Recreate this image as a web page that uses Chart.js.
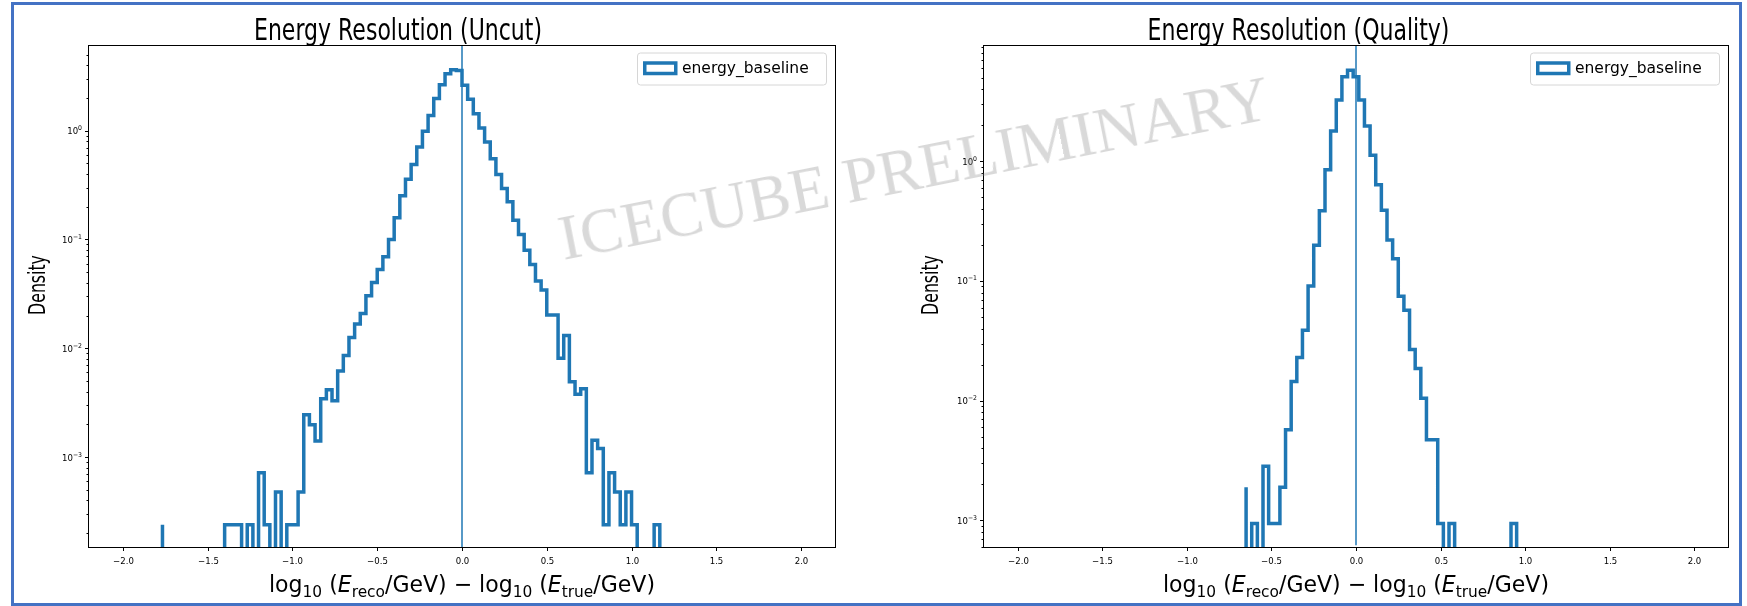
<!DOCTYPE html>
<html lang="en">
<head>
<meta charset="UTF-8">
<title>Energy Resolution</title>
<script src="https://cdn.jsdelivr.net/npm/chart.js"></script>
<style>
  body { margin: 0; background: #fff; }
  #pagina { position: relative; width: 1747px; height: 606px; overflow: hidden; background: #fff; }
  .moldura { position: absolute; left: 11px; top: 2px; width: 1731px; height: 604px; box-sizing: border-box; border: 3.5px solid #4472c4; }
  canvas { position: absolute; top: 0; }
  #graficoUncut { left: 0; }
  #graficoQuality { left: 873px; }
  #marca { position: absolute; left: 563px; top: 257px; width: 0; height: 0; transform: rotate(-11.3deg); transform-origin: 0 0; }
  #marca span { position: absolute; left: 0; bottom: -14px; font-family: "Liberation Serif", "DejaVu Serif", serif; font-size: 64px; line-height: 1; color: rgba(128,128,128,0.3); white-space: nowrap; }
</style>
</head>
<body>
<div id="pagina">
  <div class="moldura"></div>
  <canvas id="graficoUncut" width="873" height="606"></canvas>
  <canvas id="graficoQuality" width="874" height="606"></canvas>
  <div id="marca"><span>ICECUBE PRELIMINARY</span></div>
</div>
<script>
  // histogramas (density=True), bins de 1/30
  const larguraBin = 1 / 30;

  // Uncut: borda esquerda do primeiro bin e densidade de cada bin
  const uncutInicio = -53 / 30;
  const uncutDensidade = [
    0.000239,
    0, 0, 0, 0, 0, 0, 0, 0, 0, 0, 0,
    0.000239, 0.000239, 0.000239, 0, 0.000239, 0, 0.000717, 0.000239, 0, 0.000478,
    0, 0.000239, 0.000239, 0.000478, 0.00245, 0.00198, 0.00141, 0.00343, 0.00415, 0.00329,
    0.0062, 0.00857, 0.0126, 0.0167, 0.0209, 0.0304, 0.0403, 0.053, 0.0693, 0.100,
    0.158, 0.252, 0.358, 0.488, 0.708, 0.99, 1.38, 1.97, 2.64, 3.33,
    3.62, 3.58, 2.61, 1.94, 1.43, 1.06, 0.787, 0.553, 0.395, 0.294,
    0.222, 0.150, 0.111, 0.0798, 0.059, 0.0415, 0.0343, 0.0202, 0.0202, 0.0081,
    0.0131, 0.00494, 0.00379, 0.00424, 0.000717, 0.00143, 0.0012, 0.000239, 0.000717, 0.000478,
    0.000239, 0.000478, 0.000239, 0, 0, 0, 0.000239
  ];

  // Quality: bins centrados no zero
  const qualityInicio = -19.5 / 30;
  const qualityDensidade = [
    0.00189, 0, 0.000944, 0, 0.00283, 0.000944, 0.000944, 0.00189, 0.00571, 0.0145,
    0.0230, 0.0388, 0.0908, 0.199, 0.386, 0.848, 1.79, 3.24, 5.07, 5.76,
    5.07, 3.24, 1.97, 1.12, 0.637, 0.39, 0.22, 0.153, 0.0744, 0.0569,
    0.0268, 0.0186, 0.0105, 0.00472, 0.00472, 0.000944, 0, 0.000944, 0, 0,
    0, 0, 0, 0, 0, 0, 0, 0, 0.000944
  ];

  const linhaVertical = 0;
  const xTicks = [-2.0, -1.5, -1.0, -0.5, 0.0, 0.5, 1.0, 1.5, 2.0];
  const yExpoentes = [0, -1, -2, -3];
  const titulos = ['Energy Resolution (Uncut)', 'Energy Resolution (Quality)'];
  const nomeSerie = 'energy_baseline';
  const rotuloY = 'Density';

  const azul = '#1f77b4';
  const fonte = '"DejaVu Sans", Verdana, sans-serif';

  function montarDegraus(inicio, densidades, piso) {
    const pontos = [{ x: inicio, y: piso }];
    for (let i = 0; i < densidades.length; i++) {
      const v = densidades[i] > 0 ? densidades[i] : piso;
      pontos.push({ x: inicio + i * larguraBin, y: v });
    }
    pontos.push({ x: inicio + densidades.length * larguraBin, y: piso });
    return pontos;
  }

  function escrever(ctx, texto, x, y, tamanho, escalaX, alinhamento, estilo) {
    ctx.save();
    ctx.font = (estilo || '') + ' ' + tamanho + 'px ' + fonte;
    ctx.translate(x, y);
    ctx.scale(escalaX, 1);
    ctx.textAlign = alinhamento;
    ctx.textBaseline = 'alphabetic';
    ctx.fillText(texto, 0, 0);
    ctx.restore();
  }

  // rotulo do eixo x com indices, como o mathtext do matplotlib
  function rotuloX(ctx, cx, base, tamanho, largura) {
    const partes = [
      { t: 'log', s: 1 }, { t: '10', s: 0.7, d: 0.22 }, { t: ' (', s: 1 },
      { t: 'E', s: 1, i: true }, { t: 'reco', s: 0.7, d: 0.22 }, { t: '/GeV) \u2212 log', s: 1 },
      { t: '10', s: 0.7, d: 0.22 }, { t: ' (', s: 1 }, { t: 'E', s: 1, i: true },
      { t: 'true', s: 0.7, d: 0.22 }, { t: '/GeV)', s: 1 }
    ];
    let total = 0;
    for (let i = 0; i < partes.length; i++) {
      ctx.font = (partes[i].i ? 'italic ' : '') + (tamanho * partes[i].s) + 'px ' + fonte;
      partes[i].w = ctx.measureText(partes[i].t).width;
      total += partes[i].w;
    }
    const esc = largura / total;
    let x = cx - largura / 2;
    for (let i = 0; i < partes.length; i++) {
      const p = partes[i];
      escrever(ctx, p.t, x, base + (p.d || 0) * tamanho, tamanho * p.s, esc, 'left', p.i ? 'italic' : '');
      x += p.w * esc;
    }
  }

  const eixosPlugin = {
    id: 'eixos',
    afterDraw(chart, args, op) {
      const ctx = chart.ctx;
      const a = chart.chartArea;
      const sx = chart.scales.x;
      const sy = chart.scales.y;
      const esq = Math.round(a.left) - 0.5, dir = Math.round(a.right) + 0.5;
      const topo = Math.round(a.top) - 0.5, baixo = Math.round(a.bottom) + 0.5;
      ctx.save();
      ctx.fillStyle = '#000';
      ctx.strokeStyle = '#000';
      ctx.lineWidth = 1;
      ctx.strokeRect(esq, topo, dir - esq, baixo - topo);

      // ticks do eixo x
      for (let i = 0; i < xTicks.length; i++) {
        const px = Math.round(sx.getPixelForValue(xTicks[i])) + 0.5;
        ctx.beginPath(); ctx.moveTo(px, baixo); ctx.lineTo(px, baixo + 3.5); ctx.stroke();
        const v = xTicks[i];
        const txt = (v < 0 ? '\u2212' : '') + Math.abs(v).toFixed(1);
        escrever(ctx, txt, px, baixo + 16, 9, 0.95, 'center');
      }

      // ticks do eixo y (log), maiores e menores
      const eMin = Math.floor(Math.log10(sy.min));
      const eMax = Math.ceil(Math.log10(sy.max));
      for (let e = eMin; e <= eMax; e++) {
        for (let m = 1; m <= 9; m++) {
          const val = m * Math.pow(10, e);
          if (val < sy.min || val > sy.max) continue;
          const py = Math.round(sy.getPixelForValue(val)) + 0.5;
          ctx.beginPath(); ctx.moveTo(esq, py); ctx.lineTo(esq - (m === 1 ? 3.5 : 2), py); ctx.stroke();
        }
      }
      for (let i = 0; i < yExpoentes.length; i++) {
        const e = yExpoentes[i];
        const py = sy.getPixelForValue(Math.pow(10, e));
        const expo = (e < 0 ? '\u2212' : '') + Math.abs(e);
        ctx.font = '6.5px ' + fonte;
        const we = ctx.measureText(expo).width * 0.95;
        const xf = esq - 6.5;
        escrever(ctx, expo, xf, py - 0.5, 6.5, 0.95, 'right');
        escrever(ctx, '10', xf - we, py + 3.5, 9, 0.95, 'right');
      }

      // titulo
      escrever(ctx, op.titulo, op.tituloX, 40, 31, 0.71, 'center');

      // rotulos dos eixos
      rotuloX(ctx, (a.left + a.right) / 2, 592, 23, 386);
      ctx.save();
      ctx.translate(op.rotuloYx, 285);
      ctx.rotate(-Math.PI / 2);
      escrever(ctx, rotuloY, 0, 0, 22.5, 0.7, 'center');
      ctx.restore();

      // legenda
      const lx = a.right - 9 - 189, ly = a.top + 6.5;
      ctx.fillStyle = 'rgba(255,255,255,0.8)';
      ctx.strokeStyle = '#d6d6d6';
      ctx.lineWidth = 1;
      ctx.beginPath();
      ctx.roundRect(lx + 0.5, ly + 0.5, 189, 32, 3);
      ctx.fill(); ctx.stroke();
      ctx.strokeStyle = azul;
      ctx.lineWidth = 3.5;
      ctx.strokeRect(lx + 7.75, ly + 10.5, 31, 10.5);
      ctx.fillStyle = '#000';
      escrever(ctx, nomeSerie, lx + 45, ly + 20.5, 15.5, 1, 'left');
      ctx.restore();
    }
  };

  function plotarPainel(id, inicio, densidades, yMin, yMax, titulo, tituloX, rotuloYx, padding) {
    const piso = yMin / 100;
    new Chart(document.getElementById(id), {
      type: 'line',
      data: {
        datasets: [{
          data: [{ x: linhaVertical, y: yMin }, { x: linhaVertical, y: yMax }],
          borderColor: azul,
          borderWidth: 1.5,
          pointRadius: 0,
          clip: 0
        }, {
          label: nomeSerie,
          data: montarDegraus(inicio, densidades, piso),
          borderColor: azul,
          borderWidth: 3.5,
          borderJoinStyle: 'miter',
          borderCapStyle: 'butt',
          stepped: 'after',
          pointRadius: 0,
          fill: false,
          clip: 0
        }]
      },
      options: {
        responsive: false,
        devicePixelRatio: 1,
        animation: false,
        events: [],
        layout: { padding: padding },
        scales: {
          x: { type: 'linear', min: -2.2, max: 2.2, display: false },
          y: { type: 'logarithmic', min: yMin, max: yMax, display: false }
        },
        plugins: {
          legend: { display: false },
          tooltip: { enabled: false },
          eixos: { titulo: titulo, tituloX: tituloX, rotuloYx: rotuloYx }
        }
      },
      plugins: [eixosPlugin]
    });
  }

  plotarPainel('graficoUncut', uncutInicio, uncutDensidade,
    Math.pow(10, -3.826), Math.pow(10, 0.778), titulos[0], 398, 44.5,
    { left: 89, right: 38, top: 46, bottom: 59 });
  plotarPainel('graficoQuality', qualityInicio, qualityDensidade,
    Math.pow(10, -3.208), Math.pow(10, 0.9626), titulos[1], 1298.5 - 873, 937.5 - 873,
    { left: 111, right: 19, top: 46, bottom: 59 });
</script>
</body>
</html>
